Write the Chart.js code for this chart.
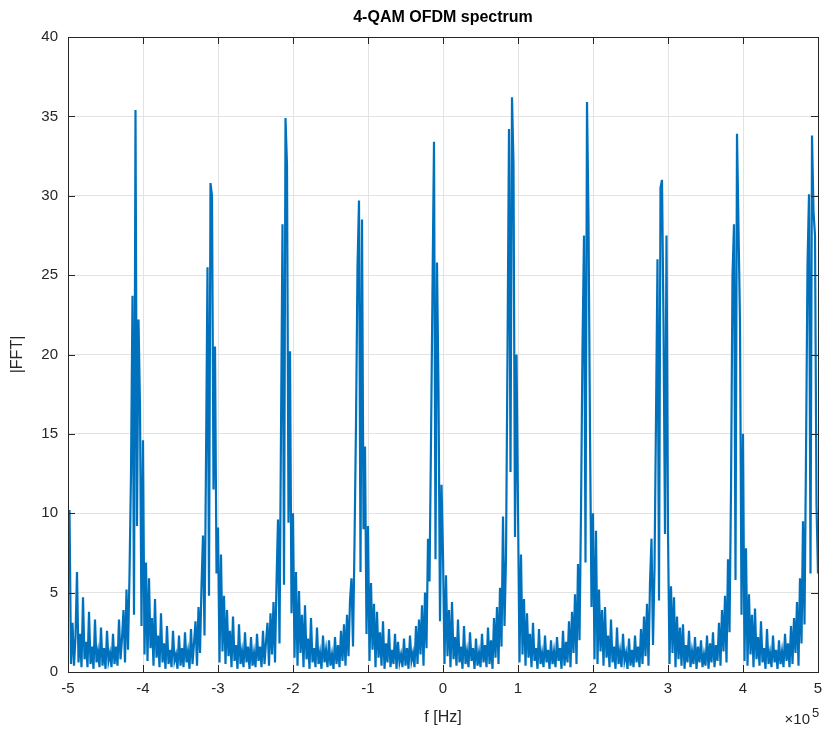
<!DOCTYPE html>
<html>
<head>
<meta charset="utf-8">
<script src="https://cdn.jsdelivr.net/npm/chart.js@4"></script>
<style>
  html, body { margin: 0; padding: 0; background: #fff; }
  #wrap { width: 824px; height: 731px; }
</style>
</head>
<body>
<div id="wrap"><canvas id="spec"></canvas></div>
<script>
// |FFT| samples, one list per 1e5 Hz band (step 0.02e5 Hz)
const seg0 = [6.8, 10.2, 0.5, 3.1, 0.4, 2.2, 6.3, 0.6, 2.4, 0.3, 4.7, 0.8, 1.9, 0.3, 3.8, 0.5, 1.6, 0.2, 3.3, 0.6, 1.3, 0.3, 2.8, 0.4, 1.5, 0.2, 2.6, 0.7, 1.2, 0.3, 2.4, 0.5, 1.6, 0.4, 3.3, 0.8, 2.1, 3.9, 0.6, 5.2, 1.4, 6.1, 12.5, 23.7, 3.6, 35.4, 9.2, 22.2, 16.7, 2.9];
const seg1 = [14.6, 1.1, 6.9, 0.7, 5.9, 1.5, 3.4, 0.4, 4.6, 0.9, 2.3, 0.3, 3.7, 0.6, 1.8, 0.2, 2.9, 0.5, 1.4, 0.3, 2.6, 0.7, 1.1, 0.2, 2.3, 0.4, 1.5, 0.3, 2.5, 0.6, 1.3, 0.2, 2.7, 0.5, 1.8, 3.2, 0.4, 4.1, 1.2, 5.4, 8.6, 2.3, 13.2, 25.5, 4.8, 30.8, 30.0, 11.5, 20.5, 6.2];
const seg2 = [9.1, 0.6, 7.4, 1.3, 4.8, 0.5, 3.9, 1.0, 2.6, 0.3, 3.5, 0.7, 1.7, 0.2, 3.0, 0.5, 1.3, 0.3, 2.5, 0.6, 1.6, 0.2, 2.2, 0.4, 1.2, 0.3, 2.4, 0.7, 1.6, 0.3, 2.6, 0.5, 1.9, 3.1, 0.4, 3.7, 1.1, 4.4, 0.6, 5.6, 9.6, 1.8, 15.1, 28.2, 5.5, 34.9, 31.9, 9.4, 20.2, 3.7];
const seg3 = [10.0, 0.9, 6.3, 0.4, 5.1, 1.2, 3.6, 0.3, 4.2, 0.8, 2.1, 0.2, 3.4, 0.6, 1.5, 0.3, 2.8, 0.5, 1.2, 0.2, 2.3, 0.6, 1.4, 0.3, 2.0, 0.4, 1.1, 0.2, 2.2, 0.5, 1.7, 0.3, 2.6, 0.7, 3.0, 0.4, 3.6, 1.0, 4.5, 5.9, 1.6, 8.1, 15.6, 25.5, 29.7, 6.3, 28.5, 9.0, 14.2, 2.4];
const seg4 = [9.2, 0.7, 5.6, 1.4, 4.3, 0.3, 3.8, 0.9, 2.5, 0.4, 3.2, 0.2, 1.8, 0.6, 2.7, 0.3, 1.4, 0.5, 2.4, 0.2, 1.9, 0.6, 1.1, 0.3, 2.1, 0.4, 1.5, 0.2, 2.3, 0.7, 1.2, 0.3, 2.9, 0.5, 3.3, 1.1, 4.2, 0.4, 5.0, 1.5, 8.4, 5.7, 14.5, 24.2, 33.4, 7.1, 25.8, 17.7, 3.2, 11.8];
const seg5 = [7.4, 0.5, 6.1, 1.0, 3.9, 0.3, 4.4, 0.8, 2.2, 0.4, 3.3, 0.6, 1.6, 0.2, 2.9, 0.5, 1.3, 0.3, 2.5, 0.7, 1.5, 0.2, 2.1, 0.4, 1.2, 0.3, 2.4, 0.6, 1.7, 0.3, 2.8, 0.5, 2.0, 0.2, 3.4, 0.9, 4.1, 0.5, 5.3, 1.6, 9.8, 2.9, 7.2, 20.1, 34.2, 12.6, 36.2, 32.0, 8.5, 20.0];
const seg6 = [10.3, 0.6, 7.4, 1.1, 4.6, 0.4, 3.7, 0.9, 2.4, 0.3, 3.1, 0.7, 1.5, 0.2, 2.7, 0.5, 1.2, 0.3, 2.3, 0.6, 1.4, 0.2, 2.0, 0.5, 1.3, 0.3, 2.2, 0.7, 1.5, 0.2, 2.6, 0.4, 1.9, 0.6, 3.2, 0.3, 3.8, 1.2, 4.9, 0.5, 6.8, 2.0, 10.1, 20.5, 27.5, 6.9, 35.9, 28.5, 15.0, 4.1];
const seg7 = [10.0, 0.8, 8.9, 0.5, 5.2, 1.3, 3.9, 0.4, 4.1, 0.9, 2.3, 0.3, 3.3, 0.6, 1.6, 0.2, 2.8, 0.5, 1.3, 0.3, 2.4, 0.7, 1.2, 0.2, 2.1, 0.4, 1.4, 0.3, 2.3, 0.6, 1.6, 0.3, 2.7, 0.5, 3.5, 1.0, 4.3, 0.4, 5.6, 8.4, 1.7, 6.5, 16.0, 26.0, 4.5, 30.5, 31.0, 22.0, 8.7, 27.5];
const seg8 = [8.8, 0.5, 5.4, 1.2, 4.7, 0.3, 3.5, 0.8, 2.8, 0.4, 3.0, 0.2, 1.7, 0.6, 2.6, 0.3, 1.3, 0.5, 2.2, 0.2, 1.6, 0.6, 2.0, 0.3, 1.1, 0.4, 2.3, 0.2, 1.8, 0.6, 2.5, 0.3, 1.7, 0.7, 3.1, 0.4, 3.9, 1.3, 4.8, 0.6, 7.1, 2.5, 11.4, 25.0, 28.2, 5.8, 33.9, 28.0, 22.0, 3.6];
const seg9 = [15.0, 0.7, 7.8, 0.4, 4.9, 1.1, 3.6, 0.3, 4.0, 0.8, 2.2, 0.4, 3.2, 0.6, 1.5, 0.2, 2.7, 0.5, 1.2, 0.3, 2.3, 0.6, 1.4, 0.2, 2.0, 0.5, 1.3, 0.3, 2.4, 0.7, 1.8, 0.3, 2.9, 0.5, 3.4, 1.2, 4.4, 0.4, 5.9, 1.8, 9.5, 3.0, 13.6, 25.6, 30.1, 6.2, 33.8, 29.0, 27.5, 10.5];
const lastValue = [6.2];

const fStart = -5;     // in units of 1e5 Hz
const fStep = 0.02;
const xTicks = [-5, -4, -3, -2, -1, 0, 1, 2, 3, 4, 5];
const yTicks = [0, 5, 10, 15, 20, 25, 30, 35, 40];

const mags = [].concat(seg0, seg1, seg2, seg3, seg4, seg5, seg6, seg7, seg8, seg9, lastValue);
const points = mags.map((v, i) => ({ x: +(fStart + i * fStep).toFixed(4), y: v }));

const FONT = "'Liberation Sans', Arial, Helvetica, sans-serif";
const TXT = '#262626';

// MATLAB-style box, inward ticks, title and exponent label
const matlabAxes = {
    id: 'matlabAxes',
    afterDraw(chart) {
        const { ctx, chartArea: a, scales } = chart;
        ctx.save();
        ctx.strokeStyle = '#262626';
        ctx.lineWidth = 1;
        ctx.beginPath();
        xTicks.forEach(t => {
            const px = Math.round(scales.x.getPixelForValue(t)) + 0.5;
            ctx.moveTo(px, a.bottom); ctx.lineTo(px, a.bottom - 7);
            ctx.moveTo(px, a.top); ctx.lineTo(px, a.top + 7);
        });
        yTicks.forEach(t => {
            const py = Math.round(scales.y.getPixelForValue(t)) + 0.5;
            ctx.moveTo(a.left, py); ctx.lineTo(a.left + 7, py);
            ctx.moveTo(a.right, py); ctx.lineTo(a.right - 7, py);
        });
        ctx.stroke();
        ctx.strokeRect(Math.round(a.left) + 0.5, Math.round(a.top) + 0.5,
            Math.round(a.right - a.left), Math.round(a.bottom - a.top));

        ctx.fillStyle = '#000';
        ctx.font = 'bold 16px ' + FONT;
        ctx.textAlign = 'center';
        ctx.textBaseline = 'middle';
        ctx.fillText('4-QAM OFDM spectrum', (a.left + a.right) / 2, 18);

        ctx.fillStyle = TXT;
        ctx.font = '15px ' + FONT;
        ctx.textAlign = 'right';
        ctx.textBaseline = 'alphabetic';
        ctx.fillText('\u00d710', a.right - 8, 724);
        ctx.font = '13px ' + FONT;
        ctx.textAlign = 'left';
        ctx.fillText('5', a.right - 6, 717);
        ctx.restore();
    }
};

new Chart('spec', {
    type: 'line',
    data: {
        datasets: [{
            data: points,
            borderColor: '#0072BD',
            borderWidth: 2.2,
            borderJoinStyle: 'miter',
            pointRadius: 0,
            fill: false,
            tension: 0,
        }]
    },
    options: {
        responsive: true,
        maintainAspectRatio: false,
        animation: false,
        layout: { padding: { top: 37, right: 6, left: 0, bottom: 0 } },
        plugins: {
            legend: { display: false },
            tooltip: { enabled: false },
        },
        scales: {
            x: {
                type: 'linear',
                min: -5,
                max: 5,
                afterFit: s => { s.height = 59; s.paddingLeft = 0; s.paddingRight = 0; },
                afterBuildTicks: s => { s.ticks = xTicks.map(v => ({ value: v })); },
                ticks: {
                    padding: 8,
                    color: TXT,
                    font: { family: FONT, size: 15 },
                    maxRotation: 0,
                    callback: v => String(v),
                },
                grid: { color: '#e3e3e3', drawTicks: false },
                border: { display: false },
                title: {
                    display: true,
                    text: 'f [Hz]',
                    color: TXT,
                    font: { family: FONT, size: 16 },
                    padding: { top: 0, bottom: 4 },
                },
            },
            y: {
                min: 0,
                max: 40,
                afterFit: s => { s.width = 68; s.paddingTop = 0; s.paddingBottom = 0; },
                afterBuildTicks: s => { s.ticks = yTicks.map(v => ({ value: v })); },
                ticks: {
                    padding: 10,
                    color: TXT,
                    font: { family: FONT, size: 15 },
                },
                grid: { color: '#e3e3e3', drawTicks: false },
                border: { display: false },
                title: {
                    display: true,
                    text: '|FFT|',
                    color: TXT,
                    font: { family: FONT, size: 16 },
                    padding: { top: 8, bottom: 0 },
                },
            },
        },
    },
    plugins: [matlabAxes],
});
</script>
</body>
</html>
